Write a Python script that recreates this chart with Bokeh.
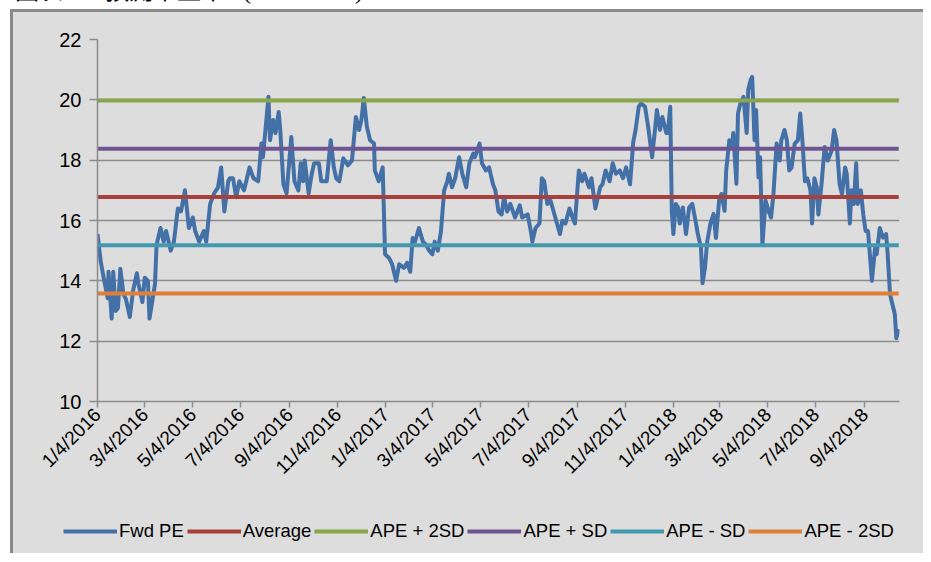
import pandas as pd
from bokeh.plotting import figure
from bokeh.models import (FixedTicker, DatetimeTickFormatter, Legend, LegendItem,
                          Div, Range1d)
from bokeh.layouts import column
from bokeh.embed import file_html
from bokeh.resources import INLINE

title_text = "圖表一 預測市盈率 (2016-2018)"

dates = [
    "2016-01-04", "2016-01-08", "2016-01-12", "2016-01-17", "2016-01-18", "2016-01-22",
    "2016-01-24", "2016-01-27", "2016-01-30", "2016-02-02", "2016-02-06", "2016-02-09",
    "2016-02-14", "2016-02-18", "2016-02-23", "2016-02-25", "2016-03-01", "2016-03-04",
    "2016-03-08", "2016-03-10", "2016-03-14", "2016-03-17", "2016-03-19", "2016-03-24",
    "2016-03-28", "2016-03-31", "2016-04-06", "2016-04-10", "2016-04-15", "2016-04-19",
    "2016-04-24", "2016-04-29", "2016-05-04", "2016-05-07", "2016-05-12", "2016-05-18",
    "2016-05-21", "2016-05-26", "2016-05-31", "2016-06-05", "2016-06-09", "2016-06-13",
    "2016-06-18", "2016-06-20", "2016-06-24", "2016-06-28", "2016-07-02", "2016-07-08",
    "2016-07-15", "2016-07-20", "2016-07-26", "2016-07-30", "2016-08-01", "2016-08-08",
    "2016-08-10", "2016-08-14", "2016-08-17", "2016-08-21", "2016-08-23", "2016-08-27",
    "2016-08-31", "2016-09-06", "2016-09-10", "2016-09-15", "2016-09-18", "2016-09-21",
    "2016-09-23", "2016-09-28", "2016-10-02", "2016-10-05", "2016-10-11", "2016-10-14",
    "2016-10-21", "2016-10-26", "2016-10-30", "2016-11-02", "2016-11-06", "2016-11-11",
    "2016-11-17", "2016-11-22", "2016-11-27", "2016-12-01", "2016-12-04", "2016-12-07",
    "2016-12-11", "2016-12-15", "2016-12-20", "2016-12-21", "2016-12-26", "2016-12-31",
    "2017-01-03", "2017-01-08", "2017-01-12", "2017-01-17", "2017-01-21", "2017-01-27",
    "2017-01-31", "2017-02-04", "2017-02-07", "2017-02-10", "2017-02-15", "2017-02-20",
    "2017-02-24", "2017-02-28", "2017-03-04", "2017-03-07", "2017-03-11", "2017-03-15",
    "2017-03-19", "2017-03-23", "2017-03-25", "2017-03-29", "2017-04-02", "2017-04-07",
    "2017-04-11", "2017-04-16", "2017-04-20", "2017-04-25", "2017-04-27", "2017-05-03",
    "2017-05-06", "2017-05-11", "2017-05-15", "2017-05-20", "2017-05-23", "2017-05-27",
    "2017-05-31", "2017-06-03", "2017-06-07", "2017-06-11", "2017-06-17", "2017-06-23",
    "2017-06-26", "2017-07-03", "2017-07-07", "2017-07-09", "2017-07-13", "2017-07-18",
    "2017-07-21", "2017-07-24", "2017-07-28", "2017-08-01", "2017-08-06", "2017-08-13",
    "2017-08-16", "2017-08-20", "2017-08-25", "2017-08-29", "2017-09-01", "2017-09-06",
    "2017-09-10", "2017-09-13", "2017-09-19", "2017-09-22", "2017-09-27", "2017-10-03",
    "2017-10-06", "2017-10-10", "2017-10-15", "2017-10-19", "2017-10-23", "2017-10-28",
    "2017-11-01", "2017-11-05", "2017-11-10", "2017-11-14", "2017-11-17", "2017-11-21",
    "2017-11-24", "2017-11-29", "2017-12-03", "2017-12-08", "2017-12-12", "2017-12-14",
    "2017-12-18", "2017-12-21", "2017-12-26", "2017-12-28", "2017-12-31", "2018-01-02",
    "2018-01-04", "2018-01-07", "2018-01-10", "2018-01-12", "2018-01-16", "2018-01-20",
    "2018-01-24", "2018-01-28", "2018-02-01", "2018-02-04", "2018-02-08", "2018-02-10",
    "2018-02-13", "2018-02-16", "2018-02-20", "2018-02-24", "2018-02-27", "2018-03-03",
    "2018-03-06", "2018-03-10", "2018-03-12", "2018-03-16", "2018-03-19", "2018-03-21",
    "2018-03-25", "2018-03-27", "2018-03-30", "2018-04-03", "2018-04-07", "2018-04-09",
    "2018-04-12", "2018-04-14", "2018-04-17", "2018-04-19", "2018-04-22", "2018-04-24",
    "2018-04-27", "2018-05-01", "2018-05-05", "2018-05-08", "2018-05-11", "2018-05-15",
    "2018-05-19", "2018-05-21", "2018-05-25", "2018-05-28", "2018-05-31", "2018-06-03",
    "2018-06-07", "2018-06-11", "2018-06-14", "2018-06-17", "2018-06-20", "2018-06-23",
    "2018-06-27", "2018-06-29", "2018-07-02", "2018-07-05", "2018-07-07", "2018-07-11",
    "2018-07-15", "2018-07-19", "2018-07-24", "2018-07-27", "2018-07-30", "2018-08-03",
    "2018-08-06", "2018-08-10", "2018-08-12", "2018-08-16", "2018-08-18", "2018-08-21",
    "2018-08-24", "2018-08-26", "2018-08-30", "2018-09-02", "2018-09-05", "2018-09-08",
    "2018-09-10", "2018-09-13", "2018-09-17", "2018-09-19", "2018-09-23", "2018-09-27",
    "2018-10-01", "2018-10-03", "2018-10-06", "2018-10-08", "2018-10-12", "2018-10-14",
    "2018-10-17",
]

fwd_pe = [
    15.55, 14.65, 14.08, 13.42, 14.3, 12.75,
    14.3, 13.0, 13.1, 14.4, 13.55, 13.4,
    12.8, 13.65, 14.25, 13.9, 13.3, 14.1,
    14.0, 12.75, 13.4, 13.9, 15.2, 15.75,
    15.3, 15.65, 15.0, 15.3, 16.4, 16.3,
    17.0, 15.75, 16.1, 15.65, 15.3, 15.65,
    15.3, 16.55, 16.9, 17.1, 17.76, 16.3,
    17.3, 17.4, 17.4, 16.77, 17.3, 17.0,
    17.76, 17.4, 17.3, 18.55, 18.1, 20.1,
    18.66, 19.33, 18.9, 19.6, 19.0, 17.2,
    16.9, 18.77, 17.3, 17.0, 17.9, 17.3,
    17.99, 16.9, 17.55, 17.9, 17.9, 17.3,
    17.3, 18.66, 17.76, 17.4, 17.3, 18.06,
    17.83, 17.99, 19.43, 19.0, 19.33, 20.06,
    19.1, 18.66, 18.55, 17.66, 17.3, 17.76,
    14.88, 14.76, 14.55, 14.0, 14.55, 14.43,
    14.6, 14.3, 15.42, 15.3, 15.75, 15.3,
    15.2, 15.0, 14.88, 15.3, 15.0, 15.65,
    17.0, 17.3, 17.55, 17.1, 17.4, 18.1,
    17.55, 17.1, 17.9, 18.22, 18.1, 18.55,
    17.9, 17.66, 17.76, 17.2, 17.0, 16.3,
    16.2, 16.77, 16.3, 16.55, 16.1, 16.5,
    16.1, 16.2, 15.65, 15.3, 15.75, 15.9,
    17.4, 17.3, 16.55, 16.66, 16.2, 15.55,
    15.99, 15.9, 16.4, 16.1, 15.9, 17.66,
    17.3, 17.55, 17.1, 17.4, 16.4, 17.1,
    17.2, 17.66, 17.3, 17.9, 17.55, 17.66,
    17.4, 17.76, 17.2, 18.6, 19.0, 19.77,
    19.88, 19.77, 19.1, 18.1, 19.1, 19.66,
    19.0, 19.43, 18.9, 18.9, 19.77, 16.3,
    15.55, 16.55, 16.43, 15.9, 16.43, 15.55,
    16.43, 16.55, 16.0, 15.55, 15.1, 13.92,
    14.42, 15.32, 15.9, 16.22, 15.42, 16.66,
    16.88, 16.32, 17.66, 18.66, 18.44, 18.9,
    17.22, 19.55, 19.88, 20.1, 18.9, 20.33,
    20.66, 20.76, 18.66, 19.66, 17.43, 18.1,
    15.2, 16.66, 16.3, 16.1, 16.88, 18.55,
    17.99, 18.66, 19.0, 18.66, 17.66, 17.76,
    18.55, 18.66, 19.55, 18.55, 17.3, 17.4,
    17.0, 15.9, 17.4, 17.1, 16.2, 17.2,
    18.44, 17.99, 18.33, 19.0, 18.66, 17.2,
    16.88, 17.76, 17.55, 15.9, 17.0, 16.55,
    17.9, 16.55, 17.0, 16.2, 15.65, 15.65,
    15.0, 14.0, 15.1, 14.88, 15.75, 15.43,
    15.55, 14.88, 13.55, 13.33, 12.9, 12.1,
    12.4,
]

band_names = ["Average", "APE + 2SD", "APE + SD", "APE - SD", "APE - 2SD"]
band_values = [16.78, 19.98, 18.38, 15.18, 13.58]
band_colors = ["#A6403D", "#8AA64B", "#6E5490", "#4398B0", "#DF8038"]
series_name = "Fwd PE"
series_color = "#4470A8"

tick_dates = [
    "2016-01-04", "2016-03-04", "2016-05-04", "2016-07-04", "2016-09-04", "2016-11-04",
    "2017-01-04", "2017-03-04", "2017-05-04", "2017-07-04", "2017-09-04", "2017-11-04",
    "2018-01-04", "2018-03-04", "2018-05-04", "2018-07-04", "2018-09-04",
]
y_ticks = [10, 12, 14, 16, 18, 20, 22]

bg = "#DDDDDD"
edge = "3px solid #8A8A8A"
x = pd.to_datetime(dates)
x_start = pd.Timestamp("2016-01-04")
x_end = pd.Timestamp("2018-10-18")

# ---- main chart ----
p = figure(frame_width=799, frame_height=359, x_axis_type="datetime",
           output_backend="svg", toolbar_location=None,
           x_range=Range1d(x_start, x_end), y_range=Range1d(10, 22),
           min_border_left=84, min_border_right=27, min_border_top=27,
           min_border_bottom=106, margin=(4, 0, 0, 0))
p.styles = {"border-left": edge, "border-top": edge, "background-color": bg}
p.background_fill_color = bg
p.border_fill_color = bg
p.outline_line_color = None
p.xgrid.grid_line_color = None
p.ygrid.grid_line_color = "#8C8C8C"
p.ygrid.grid_line_width = 1.5

p.line(x, fwd_pe, line_color=series_color, line_width=4, line_join="round")
for val, col in zip(band_values, band_colors):
    p.line([x[0], x[-1]], [val, val], line_color=col, line_width=4)

tick_ms = [int(t.value // 10**6) for t in pd.to_datetime(tick_dates)]
p.xaxis.ticker = FixedTicker(ticks=tick_ms)
fmt = "%-m/%-d/%Y"
p.xaxis.formatter = DatetimeTickFormatter(
    microseconds=fmt, milliseconds=fmt, seconds=fmt, minsec=fmt, minutes=fmt,
    hourmin=fmt, hours=fmt, days=fmt, months=fmt, years=fmt)
p.xaxis.major_label_orientation = 0.785398
p.yaxis.ticker = FixedTicker(ticks=y_ticks)

for ax in (p.xaxis[0], p.yaxis[0]):
    ax.axis_line_color = "#8C8C8C"
    ax.axis_line_width = 1.5
    ax.major_tick_line_color = "#8C8C8C"
    ax.major_tick_line_width = 1.5
    ax.major_tick_in = 0
    ax.minor_tick_line_color = None
    ax.major_label_text_font = "Liberation Sans"
    ax.major_label_text_color = "#000000"

p.yaxis.major_tick_out = 8
p.yaxis.major_label_text_font_size = "20px"
p.yaxis.major_label_standoff = 8
p.xaxis.major_tick_out = 6
p.xaxis.major_label_text_font_size = "19px"
p.xaxis.major_label_standoff = 4

# ---- legend strip below ----
lf = figure(frame_width=910, frame_height=49, output_backend="svg",
            toolbar_location=None, x_range=Range1d(0, 1), y_range=Range1d(0, 1),
            x_axis_location=None, y_axis_location=None,
            min_border_left=0, min_border_right=0, min_border_top=0, min_border_bottom=0)
lf.styles = {"border-left": edge, "background-color": bg}
lf.background_fill_color = bg
lf.border_fill_color = bg
lf.outline_line_color = None
lf.grid.grid_line_color = None

nan = float("nan")
items = [LegendItem(label=series_name,
                    renderers=[lf.line([nan], [nan], line_color=series_color, line_width=4)])]
for name, col in zip(band_names, band_colors):
    items.append(LegendItem(label=name,
                            renderers=[lf.line([nan], [nan], line_color=col, line_width=4)]))

legend = Legend(items=items, orientation="horizontal", location=(50, 11),
                background_fill_alpha=0, border_line_color=None, padding=0, margin=0,
                glyph_width=54, glyph_height=20, label_height=20, label_standoff=2,
                spacing=3, label_text_font="Liberation Sans",
                label_text_font_size="18.5px", label_text_color="#000000")
lf.add_layout(legend)

title_div = Div(text=title_text, width=420, height=24,
                styles={"margin-top": "-24px", "position": "relative", "top": "3px",
                        "font-size": "24px", "line-height": "24px", "word-spacing": "12px",
                        "font-family": "'Liberation Serif', 'Noto Sans CJK TC'",
                        "color": "#000000", "white-space": "nowrap"})

layout = column(title_div, p, lf, spacing=0, margin=(0, 0, 0, 10))
open("out.html", "w").write(file_html(layout, INLINE))
